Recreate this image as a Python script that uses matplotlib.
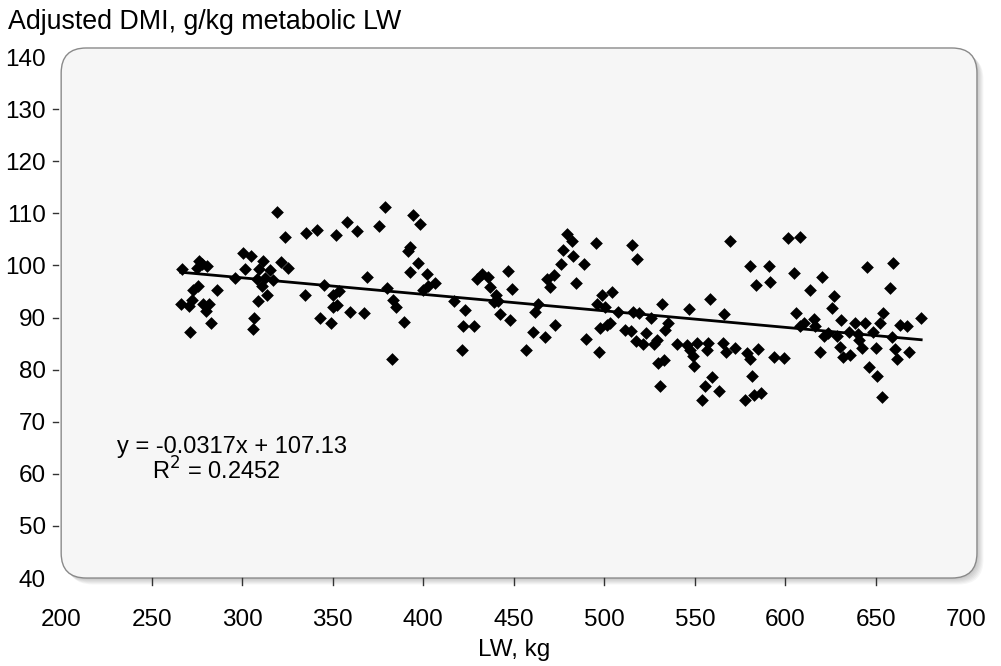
import numpy as np
import matplotlib
matplotlib.use("Agg")
import matplotlib.pyplot as plt
from matplotlib.patches import FancyBboxPatch

plt.rcParams['font.family'] = ['Liberation Sans', 'DejaVu Sans']

# Live weight (kg) and adjusted DMI (g/kg metabolic LW)
lw = [266.9, 276.4, 280.7, 274.9, 278.0, 272.6, 275.7, 286.2, 266.0, 270.8,
      272.1, 278.5, 281.8, 280.0, 282.6, 271.2, 319.1, 323.8, 335.2, 341.2,
      351.8, 357.7, 363.4, 300.6, 304.7, 311.7, 301.7, 309.4, 315.4, 321.3,
      325.5, 296.0, 308.0, 312.6, 317.2, 310.8, 313.5, 308.9, 306.7, 305.8,
      334.5, 345.2, 350.0, 353.6, 352.2, 350.0, 343.0, 348.9, 359.6, 367.0,
      368.8, 378.9, 375.8, 394.2, 398.2, 392.7, 391.3, 397.1, 392.4, 401.9,
      406.5, 402.8, 400.0, 379.8, 383.5, 385.0, 389.4, 382.6, 417.0, 423.1,
      422.2, 428.1, 421.3, 432.3, 429.6, 436.0, 436.9, 447.0, 449.1, 440.2,
      439.1, 441.5, 442.4, 448.0, 463.6, 461.8, 460.5, 467.3, 456.8, 473.0,
      468.2, 472.3, 470.0, 476.0, 477.4, 479.3, 482.0, 482.6, 488.5, 495.3,
      484.4, 489.9, 497.1, 515.2, 518.3, 498.6, 504.2, 495.9, 500.5, 507.8,
      497.7, 501.4, 503.2, 511.5, 514.6, 516.1, 519.4, 523.1, 517.6, 521.6,
      525.7, 529.0, 527.5, 535.4, 533.6, 531.8, 529.9, 532.7, 540.0, 547.0,
      558.4, 545.6, 551.1, 547.4, 549.2, 549.6, 557.5, 556.6, 565.5, 567.3,
      572.3, 566.2, 569.5, 580.5, 583.9, 578.7, 580.5, 584.6, 559.7, 581.5,
      590.7, 530.8, 555.7, 563.6, 553.9, 577.8, 582.8, 586.5, 601.7, 607.8,
      591.6, 604.9, 620.2, 613.7, 627.0, 625.9, 645.0, 659.7, 657.9, 606.0,
      610.0, 608.2, 615.9, 616.5, 630.7, 621.4, 623.8, 628.4, 638.6, 644.1,
      652.0, 653.9, 634.9, 639.9, 648.4, 658.9, 663.4, 667.4, 675.0, 640.4,
      642.3, 629.9, 635.8, 631.8, 619.2, 650.2, 660.7, 661.6, 668.2, 646.0,
      593.5, 599.0, 650.6, 653.4]
dmi = [99.3, 100.8, 99.9, 99.5, 100.2, 95.3, 96.1, 95.2, 92.6, 92.2,
       93.4, 92.6, 92.6, 91.3, 88.9, 87.2, 110.2, 105.5, 106.3, 106.8,
       105.9, 108.3, 106.6, 102.3, 101.8, 100.8, 99.3, 99.3, 99.1, 100.6,
       99.5, 97.5, 97.3, 97.5, 97.2, 96.1, 94.3, 93.2, 90.0, 87.8,
       94.3, 96.2, 94.3, 95.0, 92.4, 92.1, 89.9, 88.9, 91.1, 90.8,
       97.8, 111.3, 107.6, 109.7, 108.0, 103.5, 102.8, 100.5, 98.8, 98.4,
       96.6, 96.1, 95.3, 95.6, 93.4, 92.1, 89.1, 82.1, 93.2, 91.4,
       88.4, 88.4, 83.8, 98.4, 97.3, 97.7, 95.9, 98.9, 95.5, 94.3,
       93.0, 93.2, 90.7, 89.5, 92.6, 91.1, 87.2, 86.2, 83.8, 88.6,
       97.3, 98.2, 95.9, 100.2, 103.0, 106.0, 104.6, 101.8, 100.2, 104.3,
       96.6, 85.8, 83.4, 103.9, 101.2, 94.3, 94.9, 92.6, 92.1, 91.1,
       87.9, 88.6, 89.0, 87.6, 87.5, 91.1, 90.8, 87.1, 85.4, 84.9,
       89.9, 85.7, 84.9, 88.9, 87.6, 92.6, 81.2, 81.9, 84.9, 91.6,
       93.6, 84.7, 85.2, 83.8, 82.6, 80.7, 85.2, 83.8, 85.2, 83.3,
       84.1, 90.7, 104.6, 99.9, 96.2, 83.1, 82.0, 83.9, 78.5, 78.7,
       99.9, 76.9, 76.9, 75.8, 74.2, 74.2, 75.1, 75.5, 105.2, 105.5,
       96.8, 98.5, 97.8, 95.2, 94.2, 91.9, 99.6, 100.5, 95.7, 90.8,
       89.0, 88.3, 89.7, 88.3, 89.5, 86.5, 87.0, 86.5, 88.9, 88.9,
       88.9, 90.9, 87.3, 86.8, 87.3, 86.3, 88.6, 88.3, 89.9, 85.7,
       84.1, 84.3, 82.8, 82.5, 83.3, 84.2, 83.9, 82.0, 83.4, 80.5,
       82.5, 82.2, 78.7, 74.8]

# fitted trend line as printed on the chart
slope = -0.0317
intercept = 107.13
r_squared = 0.2452

x_ticks = [200, 250, 300, 350, 400, 450, 500, 550, 600, 650, 700]
y_ticks = [40, 50, 60, 70, 80, 90, 100, 110, 120, 130, 140]

fig = plt.figure(figsize=(10.01, 6.66), dpi=100)
ax = fig.add_axes([0.0611, 0.1321, 0.9044, 0.7823])
ax.set_xlim(200, 700)
ax.set_ylim(40, 140)
ax.set_facecolor('none')
for s in ax.spines.values():
    s.set_visible(False)

# rounded plot-area box with a soft drop shadow
w_px, h_px = 0.9044 * 1001, 0.7823 * 666
asp = w_px / h_px
r = 25 / w_px
for i in range(6):
    off = (i + 1.5) / w_px
    sh = FancyBboxPatch((off, -off * asp), 1.0116, 1.0173,
                        boxstyle=f"round,pad=0,rounding_size={r}",
                        mutation_aspect=asp, transform=ax.transAxes,
                        facecolor='black', edgecolor='none', alpha=0.035,
                        zorder=0, clip_on=False)
    ax.add_patch(sh)
box = FancyBboxPatch((0, 0), 1.0116, 1.0173,
                     boxstyle=f"round,pad=0,rounding_size={r}",
                     mutation_aspect=asp, transform=ax.transAxes,
                     facecolor='#f6f6f6', edgecolor='#8a8a8a', linewidth=1.0,
                     zorder=0.5, clip_on=False)
ax.add_patch(box)

ax.scatter(lw, dmi, marker='D', s=42, color='black', zorder=3, linewidths=0)

xs = np.array([min(lw), max(lw)])
ax.plot(xs, slope * xs + intercept, color='black', lw=2.0, zorder=4)

ax.text(231, 65.1, f"y = {slope}x + {intercept}", fontsize=17, va='center')
ax.text(250, 60.6, f"R$^2$ = {r_squared}", fontsize=17, va='center')

# labels on major ticks, tick marks only on the inner values
ax.set_xticks(x_ticks)
ax.set_yticks(y_ticks)
ax.tick_params(which='major', labelsize=17.5, length=0, labelcolor='black')
ax.tick_params(axis='x', which='major', pad=22)
ax.tick_params(axis='y', which='major', pad=11)
for v in x_ticks[1:-1]:
    ax.plot([v, v], [0, -0.0135], color='#333333', lw=1,
            transform=ax.get_xaxis_transform(), clip_on=False, zorder=2)
for v in y_ticks[1:-1]:
    ax.plot([-0.009, -0.003], [v, v], color='#333333', lw=1,
            transform=ax.get_yaxis_transform(), clip_on=False, zorder=2)

ax.set_xlabel('LW, kg', fontsize=17.5, labelpad=6)
fig.text(0.008, 0.967, 'Adjusted DMI, g/kg metabolic LW', fontsize=19.3,
         va='center', ha='left')

fig.savefig('out.png', dpi=100)
